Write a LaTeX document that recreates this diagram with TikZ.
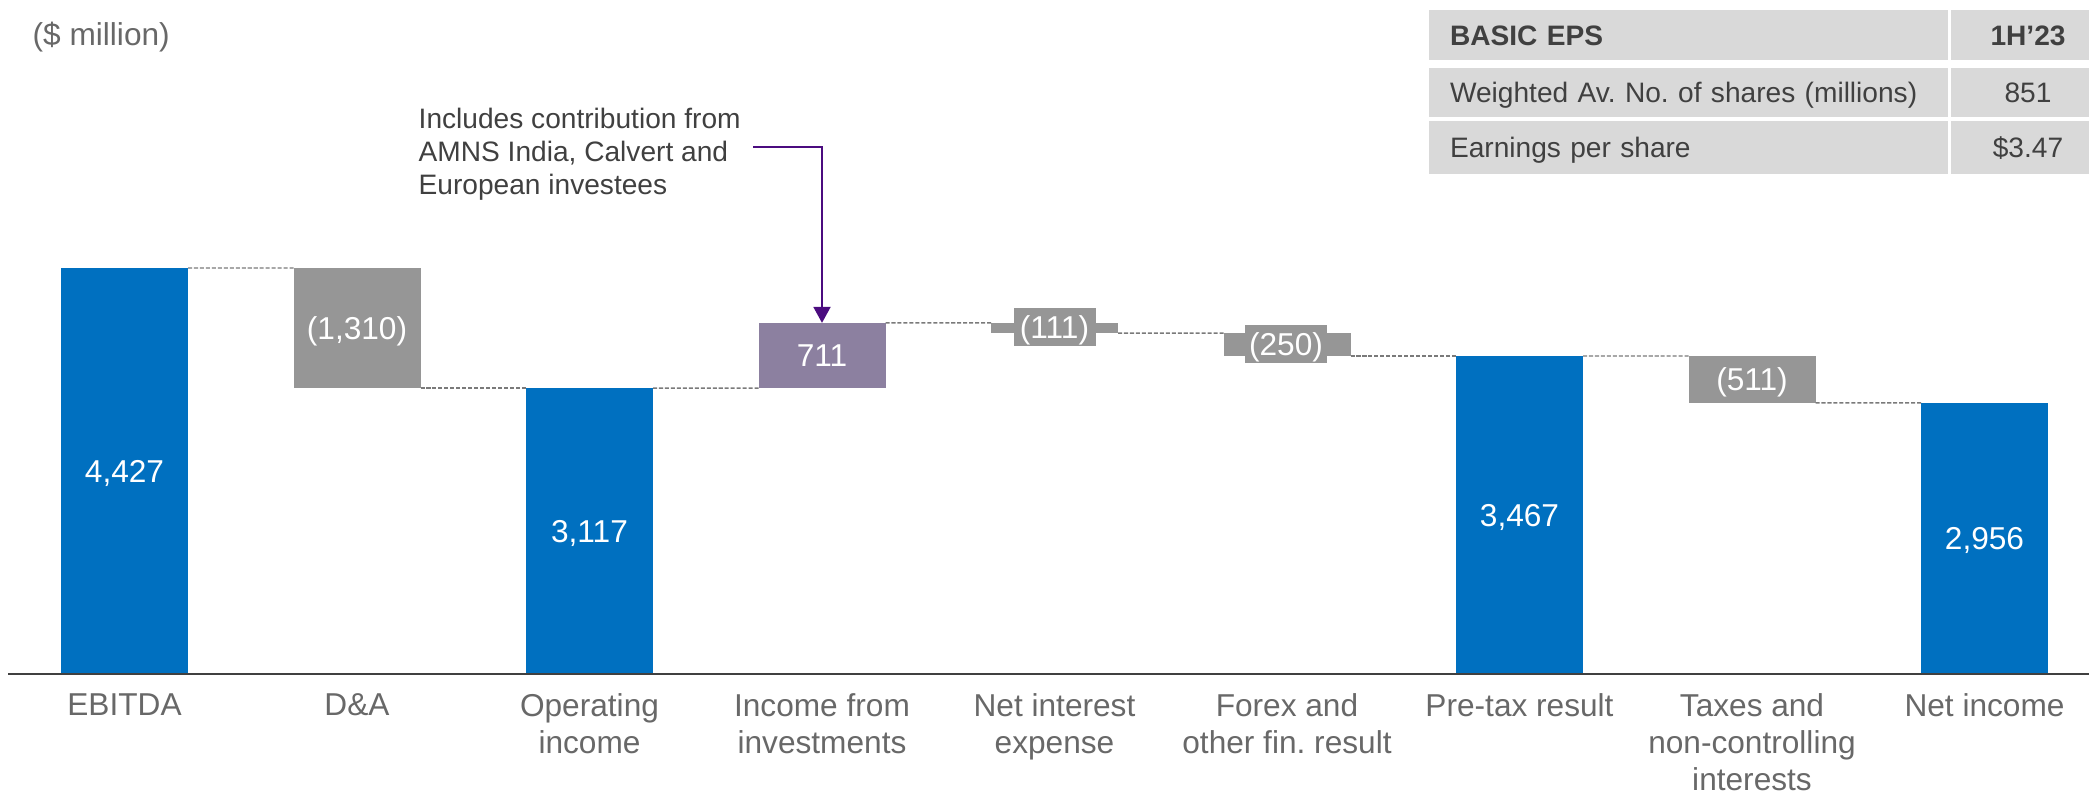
\documentclass[tikz,border=0pt]{standalone}
\usepackage{fontspec}
\setmainfont{Liberation Sans}
\usepackage{tikz}
\usetikzlibrary{arrows.meta}
\frenchspacing
\definecolor{barblue}{HTML}{0070C0}
\definecolor{bargrey}{HTML}{969696}
\definecolor{barpurple}{HTML}{8C80A0}
\definecolor{notepurple}{HTML}{4B0C7F}
\definecolor{cellgrey}{HTML}{D9D9D9}
\definecolor{txtdark}{HTML}{404040}
\definecolor{txtgrey}{HTML}{686868}
\definecolor{dashgrey}{HTML}{7A7A7A}
\tikzstyle{bar}=[rectangle,inner sep=0pt,outer sep=0pt,minimum width=1.27cm,text=white,
                 font=\fontsize{9}{10.5}\selectfont,text height=6.4pt,text depth=0pt]
\tikzstyle{bluebar}=[bar,fill=barblue]
\tikzstyle{greybar}=[bar,fill=bargrey]
\tikzstyle{invbar}=[bar,fill=barpurple]
\tikzstyle{thinbar}=[greybar,text height=0pt]
\tikzstyle{tag}=[greybar,minimum width=0.82cm,minimum height=0.38cm]
\tikzstyle{cat}=[anchor=north,inner sep=0pt,align=center,text=txtgrey,font=\fontsize{9}{10.5}\selectfont]
\tikzstyle{link}=[draw=dashgrey,line width=0.4pt,dash pattern=on 1.15pt off 0.55pt]
\tikzstyle{callout}=[draw=notepurple,line width=0.55pt,-{Triangle[length=0.16cm,width=0.17cm]}]
\tikzstyle{cell}=[fill=cellgrey,inner xsep=0.21cm,inner ysep=0pt,outer sep=0pt,text=txtdark,
                  font=\fontsize{8}{9.5}\selectfont,text height=5.7pt,text depth=0pt]
\tikzstyle{lcell}=[cell,text width=4.77cm,align=left]
\tikzstyle{rcell}=[cell,minimum width=1.54cm]

\begin{document}
\begin{tikzpicture}
\path[use as bounding box,clip] (0,-1.2) rectangle (20.89,6.74);
\coordinate (O) at (0.08,0);
\coordinate (E) at (20.89,0);
% bars
\node[bluebar,minimum height=4.060cm] (ebitda) at (1.245,2.030) {4,427};
\node[greybar,minimum height=1.201cm] (da) at (3.570,3.4595) {(1,310)};
\node[bluebar,minimum height=2.859cm] (opinc) at (5.895,1.4295) {3,117};
\node[invbar,minimum height=0.652cm] (inv) at (8.220,3.185) {711};
\node[thinbar,minimum height=0.102cm] (nie) at (10.545,3.460) {};
\node[tag] (nietag) at (10.545,3.47) {(111)};
\node[thinbar,minimum height=0.229cm] (fx) at (12.870,3.2945) {};
\node[tag] (fxtag) at (12.860,3.30) {(250)};
\node[bluebar,minimum height=3.180cm] (pretax) at (15.195,1.590) {3,467};
\node[greybar,minimum height=0.469cm] (tax) at (17.520,2.9455) {(511)};
\node[bluebar,minimum height=2.711cm] (netinc) at (19.845,1.3555) {2,956};
% dashed links
\draw[link] (ebitda.north east) -- (da.north west);
\draw[link] (da.south east) -- (opinc.north west);
\draw[link] (opinc.north east) -- (inv.south west);
\draw[link] (inv.north east) -- (nie.north west);
\draw[link] (nie.south east) -- (fx.north west);
\draw[link] (fx.south east) -- (pretax.north west);
\draw[link] (pretax.north east) -- (tax.north west);
\draw[link] (tax.south east) -- (netinc.north west);
\draw[draw=txtdark,line width=0.7pt] (O) -- (E);
% categories
\node[cat] (lebitda) at (1.245,-0.19) {EBITDA};
\node[cat] (lda) at (3.570,-0.19) {D\&A};
\node[cat] (lopinc) at (5.895,-0.19) {Operating\\income};
\node[cat] (linv) at (8.220,-0.19) {Income from\\investments};
\node[cat] (lnie) at (10.545,-0.19) {Net interest\\expense};
\node[cat] (lfx) at (12.870,-0.19) {Forex and\\other fin. result};
\node[cat] (lpretax) at (15.195,-0.19) {Pre-tax result};
\node[cat] (ltax) at (17.520,-0.19) {Taxes and\\non-controlling\\interests};
\node[cat] (lnetinc) at (19.845,-0.19) {Net income};
\node[anchor=base west,inner sep=0pt,text=txtgrey,font=\fontsize{9}{10.5}\selectfont] (unit) at (0.32,6.28) {(\$ million)};
% note
\node[anchor=north west,inner sep=0pt,align=left,text=txtdark,font=\fontsize{8}{9.5}\selectfont] (note)
  at (4.18,5.67) {Includes contribution from\\AMNS India, Calvert and\\European investees};
\coordinate (notept) at (7.53,5.27);
\draw[callout] (notept) -| (inv.north);
% eps table
\node[lcell,minimum height=0.50cm,font=\fontsize{8}{9.5}\selectfont\bfseries] (t11) at (16.885,6.390) {BASIC EPS};
\node[rcell,minimum height=0.50cm,font=\fontsize{8}{9.5}\selectfont\bfseries] (t12) at (20.280,6.390) {1H’23};
\node[lcell,minimum height=0.49cm] (t21) at (16.885,5.815) {Weighted Av. No. of shares (millions)};
\node[rcell,minimum height=0.49cm] (t22) at (20.280,5.815) {851};
\node[lcell,minimum height=0.53cm] (t31) at (16.885,5.265) {Earnings per share};
\node[rcell,minimum height=0.53cm] (t32) at (20.280,5.265) {\$3.47};
\end{tikzpicture}
\end{document}
